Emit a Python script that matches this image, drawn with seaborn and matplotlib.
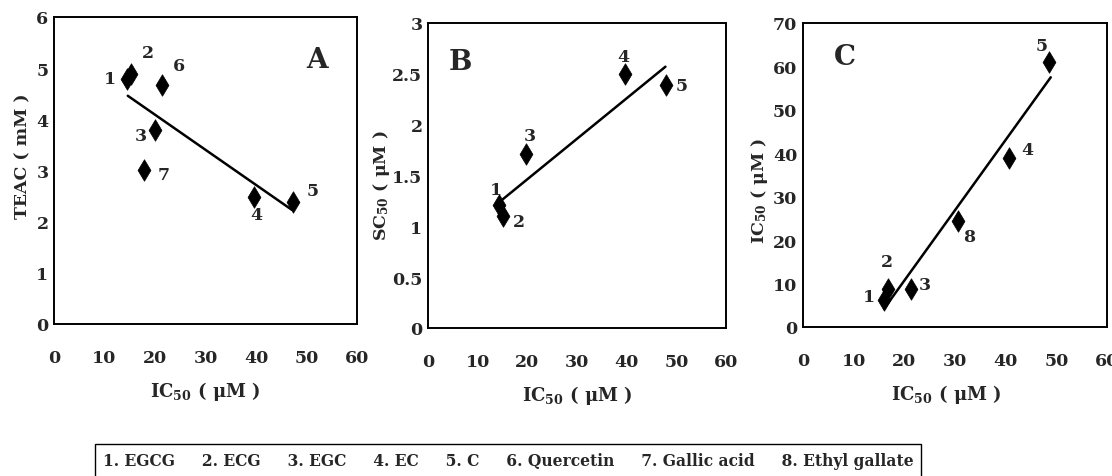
import pandas as pd
import numpy as np
import matplotlib
matplotlib.use('Agg')
import matplotlib.pyplot as plt
import matplotlib.ticker as mticker
import seaborn as sns

# 데이터
a_ids = ['1', '2', '3', '4', '5', '6', '7']
a_ic50 = [14.4, 15.3, 20.0, 39.5, 47.4, 21.4, 17.9]
a_teac = [4.79, 4.89, 3.80, 2.48, 2.39, 4.68, 3.00]
a_fit_x = [14.6, 47.1]
a_fit_y = [4.46, 2.23]

b_ids = ['1', '2', '3', '4', '5']
b_ic50 = [14.2, 15.1, 19.8, 39.7, 48.0]
b_sc50 = [1.21, 1.10, 1.71, 2.50, 2.39]
b_fit_x = [14.4, 47.8]
b_fit_y = [1.24, 2.57]

c_ids = ['1', '2', '3', '4', '5', '8']
c_ic50 = [15.9, 16.7, 21.3, 40.7, 48.6, 30.5]
c_ic50_y = [6.1, 8.8, 8.7, 38.9, 61.1, 24.4]
c_fit_x = [16.0, 48.9]
c_fit_y = [4.2, 57.5]

compounds = ['EGCG', 'ECG', 'EGC', 'EC', 'C', 'Quercetin', 'Gallic acid', 'Ethyl gallate']

sns.set_style('white')
plt.rcParams['font.family'] = ['DejaVu Serif']
plt.rcParams['font.weight'] = 'bold'
plt.rcParams['mathtext.fontset'] = 'dejavuserif'
plt.rcParams['mathtext.default'] = 'regular'

# 점 라벨 오프셋 (픽셀)
A_OFF = {'1': (-17, 0), '2': (17, 21), '3': (-14, -6), '4': (3, -17),
         '5': (19, 11), '6': (17, 19), '7': (19, -4)}
B_OFF = {'1': (-3, 15), '2': (16, -5), '3': (3, 19), '4': (-2, 17), '5': (15, 0)}
C_OFF = {'1': (-15, 4), '2': (-1, 27), '3': (14, 5), '4': (18, 9),
         '5': (-8, 16), '8': (12, -15)}

fig = plt.figure(figsize=(11.12, 4.77), dpi=100)
axA = fig.add_axes([0.0486, 0.3187, 0.2725, 0.6436])
axB = fig.add_axes([0.3849, 0.3103, 0.2680, 0.6394])
axC = fig.add_axes([0.7221, 0.3124, 0.2734, 0.6373])


def panel(ax, ids, x, y, fx, fy, offs, ylim, ystep, ylabel, letter, lpos, ylab_pos, xlab_pos):
    df = pd.DataFrame({'x': x, 'y': y, 'id': ids})
    sns.lineplot(x=fx, y=fy, ax=ax, color='black', linewidth=1.8)
    sns.scatterplot(data=df, x='x', y='y', ax=ax, marker='d', s=120,
                    color='black', edgecolor='black', linewidth=0.5, zorder=3)
    for _, r in df.iterrows():
        dx, dy = offs[r['id']]
        ax.annotate(r['id'], (r['x'], r['y']), xytext=(dx, dy),
                    textcoords='offset pixels', ha='center', va='center',
                    fontsize=12.5, fontweight='bold')
    ax.set_xlim(0, 60)
    ax.set_ylim(0, ylim)
    ax.set_xticks(np.arange(0, 61, 10))
    ax.set_yticks(np.arange(0, ylim + ystep / 2, ystep))
    ax.yaxis.set_major_formatter(mticker.FormatStrFormatter('%g'))
    ax.tick_params(axis='x', length=0, pad=18, labelsize=12.5)
    ax.tick_params(axis='y', length=0, pad=4, labelsize=12.5)
    for lab in ax.get_xticklabels() + ax.get_yticklabels():
        lab.set_fontweight('bold')
    for sp in ax.spines.values():
        sp.set_color('black')
        sp.set_linewidth(1.4)
    ax.set_xlabel('IC$_{50}$ ( μM )', fontsize=13, fontweight='bold')
    ax.set_ylabel(ylabel, fontsize=12.5, fontweight='bold')
    ax.xaxis.set_label_coords(*xlab_pos)
    ax.yaxis.set_label_coords(*ylab_pos)
    ax.text(lpos[0], lpos[1], letter, transform=ax.transAxes, ha='center',
            va='center', fontsize=20, fontweight='bold')


panel(axA, a_ids, a_ic50, a_teac, a_fit_x, a_fit_y, A_OFF, 6, 1,
      'TEAC ( mM )', 'A', (0.868, 0.863), (-0.075, 0.55), (0.50, -0.18))
panel(axB, b_ids, b_ic50, b_sc50, b_fit_x, b_fit_y, B_OFF, 3, 0.5,
      'SC$_{50}$ ( μM )', 'B', (0.107, 0.875), (-0.12, 0.47), (0.50, -0.18))
panel(axC, c_ids, c_ic50, c_ic50_y, c_fit_x, c_fit_y, C_OFF, 70, 10,
      'IC$_{50}$ ( μM )', 'C', (0.138, 0.89), (-0.11, 0.45), (0.47, -0.18))

legend_txt = '     '.join(f'{i + 1}. {n}' for i, n in enumerate(compounds))
fig.text(0.457, 0.032, legend_txt, ha='center', va='center', fontsize=11.2,
         fontweight='bold',
         bbox=dict(boxstyle='square,pad=0.5', fc='white', ec='black', lw=1.0))

plt.savefig('out.png', dpi=100)
plt.close()
